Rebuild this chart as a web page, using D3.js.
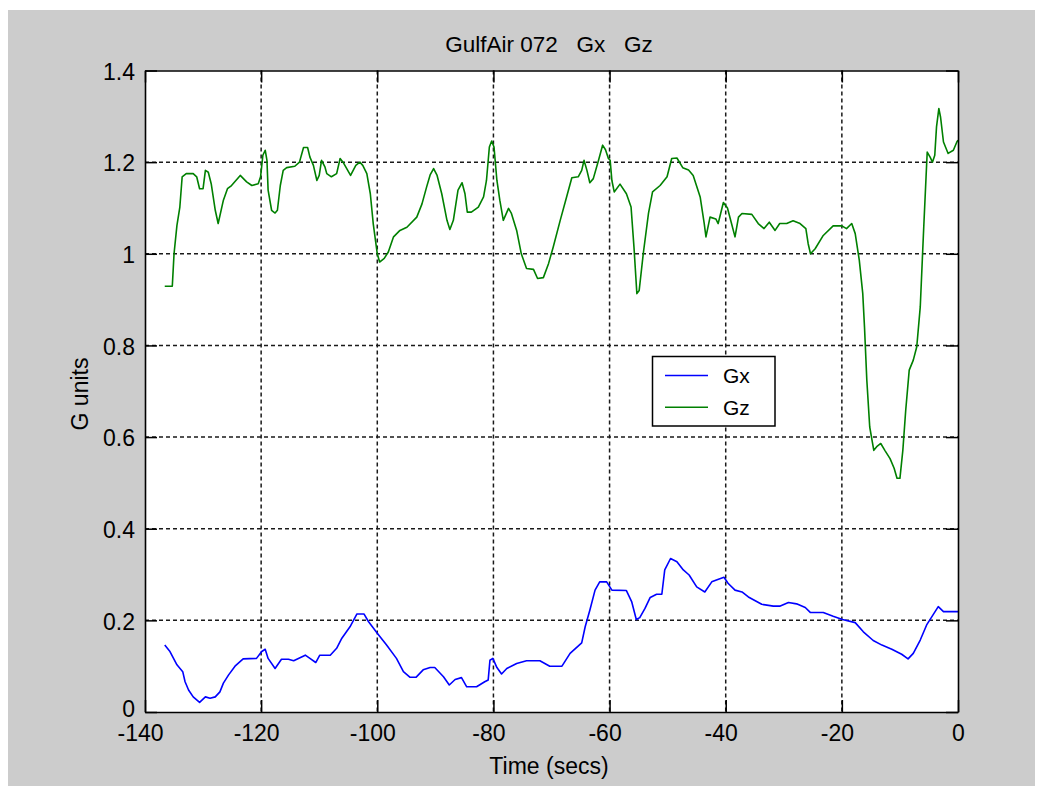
<!DOCTYPE html>
<html>
<head>
<meta charset="utf-8">
<script src="https://cdn.jsdelivr.net/npm/d3@7"></script>
<style>
  html, body { margin: 0; padding: 0; background: #ffffff; }
  svg { display: block; }
  text { font-family: "Liberation Sans", Arial, sans-serif; fill: #000; }
</style>
</head>
<body>
<svg id="chart" width="1042" height="791"></svg>
<script>
// ---- Data ----
const chartTitle = "GulfAir 072   Gx   Gz";
const xLabel = "Time (secs)";
const yLabel = "G units";
const seriesNames = ["Gx", "Gz"];
const xTicks = [-140, -120, -100, -80, -60, -40, -20, 0];
const yTicks = [0, 0.2, 0.4, 0.6, 0.8, 1, 1.2, 1.4];

const gxTime = [-136.6,-135.7,-134.5,-133.5,-133.1,-132.5,-131.7,-130.6,-129.6,-128.8,-127.9,-127.1,-126.5,-125.6,-124.5,-123.1,-120.8,-119.9,-119.3,-118.8,-117.6,-116.5,-115.3,-114.4,-112.4,-111.6,-110.6,-109.9,-108.1,-107.0,-106.1,-104.7,-103.5,-102.3,-101.5,-100.0,-98.4,-96.7,-95.5,-94.4,-93.3,-92.1,-90.9,-90.1,-88.6,-87.6,-86.6,-85.5,-84.6,-82.9,-81.5,-80.9,-80.6,-80.1,-79.4,-78.6,-77.7,-76.0,-74.3,-72.0,-70.3,-68.2,-66.8,-64.8,-64.2,-63.4,-62.5,-61.7,-60.5,-59.6,-57.1,-56.2,-55.4,-54.8,-53.9,-53.0,-51.9,-51.0,-50.5,-49.5,-48.4,-47.3,-46.3,-45.0,-43.6,-42.4,-41.6,-40.3,-39.6,-38.4,-37.2,-36.1,-33.8,-31.8,-30.7,-29.2,-27.8,-26.3,-25.4,-23.2,-21.5,-19.9,-17.7,-16.3,-14.6,-13.1,-11.4,-9.7,-8.6,-7.7,-6.5,-5.4,-4.3,-3.4,-2.5,0.0];
const gxValue = [0.146,0.132,0.103,0.088,0.066,0.048,0.033,0.021,0.033,0.030,0.033,0.044,0.063,0.081,0.100,0.116,0.117,0.132,0.137,0.117,0.095,0.115,0.115,0.112,0.124,0.117,0.108,0.124,0.124,0.139,0.161,0.186,0.214,0.214,0.197,0.172,0.146,0.117,0.088,0.076,0.076,0.092,0.097,0.097,0.077,0.059,0.071,0.075,0.055,0.055,0.066,0.070,0.113,0.117,0.097,0.083,0.095,0.106,0.112,0.112,0.100,0.100,0.128,0.151,0.186,0.222,0.266,0.284,0.284,0.266,0.265,0.241,0.202,0.206,0.226,0.250,0.257,0.257,0.310,0.335,0.328,0.310,0.299,0.273,0.262,0.284,0.288,0.294,0.281,0.266,0.262,0.251,0.235,0.231,0.231,0.239,0.236,0.228,0.217,0.217,0.209,0.202,0.195,0.175,0.156,0.146,0.137,0.126,0.116,0.128,0.157,0.190,0.212,0.230,0.219,0.219];

const gzTime = [-136.6,-135.3,-135.0,-134.5,-134.0,-133.6,-132.9,-131.7,-131.1,-130.6,-130.0,-129.6,-129.1,-128.6,-127.9,-127.4,-126.5,-125.8,-125.1,-123.6,-122.5,-121.6,-120.5,-120.1,-119.7,-119.3,-119.0,-118.8,-118.2,-117.6,-117.2,-116.7,-116.2,-115.6,-114.2,-113.4,-112.7,-112.0,-111.6,-111.0,-110.4,-110.0,-109.6,-109.0,-108.7,-107.9,-107.0,-106.4,-105.9,-104.6,-103.7,-103.0,-102.5,-101.8,-101.2,-100.7,-100.0,-99.6,-98.8,-98.1,-97.2,-96.1,-94.9,-93.2,-92.3,-91.5,-90.9,-90.3,-89.7,-88.9,-88.0,-87.5,-86.9,-86.1,-85.4,-84.9,-84.5,-83.8,-82.6,-81.7,-81.2,-80.7,-80.3,-79.9,-79.4,-78.9,-78.3,-77.4,-76.9,-76.0,-75.2,-74.3,-73.1,-72.4,-71.4,-70.5,-69.7,-68.5,-67.4,-66.5,-65.4,-64.8,-64.4,-63.9,-63.4,-62.8,-61.9,-61.2,-60.7,-60.2,-59.9,-59.6,-59.2,-58.2,-57.1,-56.3,-55.8,-55.3,-54.9,-54.2,-53.3,-52.6,-51.3,-50.1,-49.3,-48.4,-47.4,-46.4,-45.6,-44.4,-43.7,-43.4,-42.7,-41.7,-41.3,-40.4,-39.7,-39.0,-38.4,-37.8,-37.2,-35.5,-34.4,-33.4,-32.5,-31.5,-30.7,-29.5,-28.4,-27.2,-26.2,-25.8,-25.4,-24.6,-23.2,-21.5,-20.0,-19.2,-18.3,-17.7,-17.0,-16.4,-16.1,-15.7,-15.2,-14.5,-14.0,-13.3,-12.6,-11.7,-11.0,-10.5,-10.0,-9.5,-9.0,-8.4,-7.7,-7.1,-6.5,-6.1,-5.9,-5.5,-5.3,-4.8,-4.4,-4.0,-3.7,-3.3,-3.0,-2.5,-1.7,-0.8,-0.2,0.0];
const gzValue = [0.929,0.929,1.000,1.062,1.102,1.168,1.175,1.175,1.168,1.142,1.142,1.182,1.178,1.153,1.095,1.066,1.117,1.142,1.149,1.171,1.157,1.149,1.153,1.168,1.215,1.226,1.204,1.139,1.095,1.089,1.095,1.149,1.182,1.188,1.191,1.200,1.232,1.232,1.211,1.193,1.160,1.171,1.204,1.189,1.175,1.168,1.175,1.208,1.200,1.171,1.193,1.200,1.193,1.175,1.131,1.066,1.000,0.982,0.990,1.004,1.037,1.051,1.058,1.080,1.109,1.146,1.172,1.186,1.171,1.131,1.073,1.053,1.073,1.139,1.155,1.131,1.091,1.091,1.102,1.124,1.160,1.233,1.246,1.233,1.160,1.117,1.073,1.099,1.088,1.051,1.000,0.968,0.966,0.946,0.948,0.979,1.015,1.073,1.124,1.166,1.168,1.182,1.204,1.182,1.155,1.164,1.204,1.237,1.227,1.208,1.204,1.160,1.135,1.152,1.131,1.102,1.015,0.913,0.920,1.000,1.088,1.135,1.149,1.168,1.208,1.209,1.188,1.183,1.171,1.124,1.066,1.037,1.080,1.076,1.066,1.112,1.100,1.066,1.037,1.080,1.088,1.086,1.066,1.055,1.069,1.051,1.066,1.066,1.072,1.066,1.055,1.022,1.000,1.011,1.040,1.061,1.061,1.055,1.066,1.044,0.986,0.913,0.840,0.724,0.622,0.571,0.579,0.586,0.571,0.553,0.532,0.510,0.510,0.571,0.659,0.746,0.768,0.797,0.884,1.000,1.058,1.168,1.222,1.211,1.200,1.215,1.277,1.317,1.298,1.244,1.219,1.226,1.244,1.248];

// ---- Drawing ----
const svg = d3.select("#chart");
const W = 1042, H = 791;
const plot = { left: 145, right: 958, top: 70.5, bottom: 712 };

// figure background
svg.append("rect").attr("x", 0).attr("y", 0).attr("width", W).attr("height", H).attr("fill", "#ffffff");
svg.append("rect").attr("x", 8).attr("y", 10).attr("width", 1027).attr("height", 776).attr("fill", "#cccccc");

const x = d3.scaleLinear().domain([-140, 0]).range([plot.left, plot.right]);
const y = d3.scaleLinear().domain([0, 1.4]).range([plot.bottom, plot.top]);

// plot area
svg.append("rect")
  .attr("x", plot.left).attr("y", plot.top)
  .attr("width", plot.right - plot.left).attr("height", plot.bottom - plot.top)
  .attr("fill", "#ffffff");

// grid
const grid = svg.append("g").attr("stroke", "#1a1a1a").attr("stroke-width", 1.5).attr("stroke-dasharray", "4,3");
grid.selectAll("line.vx").data(xTicks.filter(d => d > -140 && d < 0)).join("line")
  .attr("x1", d => x(d)).attr("x2", d => x(d))
  .attr("y1", plot.top).attr("y2", plot.bottom);
grid.selectAll("line.hy").data(yTicks.filter(d => d > 0 && d < 1.4)).join("line")
  .attr("x1", plot.left).attr("x2", plot.right)
  .attr("y1", d => y(d)).attr("y2", d => y(d));

// series
const gxData = gxTime.map((t, i) => [t, gxValue[i]]);
const gzData = gzTime.map((t, i) => [t, gzValue[i]]);
const line = d3.line().x(d => x(d[0])).y(d => y(d[1]));
svg.append("path").datum(gxData).attr("d", line)
  .attr("fill", "none").attr("stroke", "#0000ff").attr("stroke-width", 1.6).attr("stroke-linejoin", "round");
svg.append("path").datum(gzData).attr("d", line)
  .attr("fill", "none").attr("stroke", "#008000").attr("stroke-width", 1.6).attr("stroke-linejoin", "round");

// axes
const fs = "23px";
const xAxis = svg.append("g").attr("transform", `translate(0,${plot.bottom})`)
  .call(d3.axisBottom(x).tickValues(xTicks).tickSize(-12).tickSizeOuter(0).tickPadding(13).tickFormat(d => String(d)));
xAxis.selectAll("text").style("font-size", fs).attr("dx", d => d < 0 ? -5 : 0);

const yAxis = svg.append("g").attr("transform", `translate(${plot.left},0)`)
  .call(d3.axisLeft(y).tickValues(yTicks).tickSize(-12).tickSizeOuter(0).tickPadding(10).tickFormat(d => d === 0 ? "0" : (d === 1 ? "1" : d3.format(".1f")(d))));
yAxis.selectAll("text").style("font-size", fs).attr("dy", d => d === 0 ? "0.2em" : "0.38em");

const topAxis = svg.append("g").attr("transform", `translate(0,${plot.top})`)
  .call(d3.axisTop(x).tickValues(xTicks).tickSize(-12).tickSizeOuter(0).tickFormat(""));
const rightAxis = svg.append("g").attr("transform", `translate(${plot.right},0)`)
  .call(d3.axisRight(y).tickValues(yTicks).tickSize(-12).tickSizeOuter(0).tickFormat(""));

[xAxis, yAxis, topAxis, rightAxis].forEach(g => {
  g.selectAll("path.domain").attr("stroke", "#000").attr("stroke-width", 1.6);
  g.selectAll(".tick line").attr("stroke", "#000").attr("stroke-width", 1.5);
  g.selectAll("text").attr("font-family", null).attr("fill", "#000");
});

// titles
svg.append("text").attr("x", 549).attr("y", 51.5).attr("text-anchor", "middle")
  .style("font-size", "22.5px").style("white-space", "pre").attr("xml:space", "preserve").text(chartTitle);
svg.append("text").attr("x", 549).attr("y", 774).attr("text-anchor", "middle")
  .style("font-size", "23px").text(xLabel);
svg.append("text").attr("transform", "translate(88,394) rotate(-90)").attr("text-anchor", "middle")
  .style("font-size", "23px").text(yLabel);

// legend
const lg = svg.append("g");
lg.append("rect").attr("x", 652.5).attr("y", 356.5).attr("width", 122.5).attr("height", 69.5)
  .attr("fill", "#ffffff").attr("stroke", "#000").attr("stroke-width", 1.5);
const legendColors = ["#0000ff", "#008000"];
seriesNames.forEach((name, i) => {
  const ly = 375.5 + i * 31.7;
  lg.append("line").attr("x1", 665).attr("x2", 708).attr("y1", ly).attr("y2", ly)
    .attr("stroke", legendColors[i]).attr("stroke-width", 1.6);
  lg.append("text").attr("x", 723).attr("y", ly + 7.8).style("font-size", "21px").text(name);
});
</script>
</body>
</html>
